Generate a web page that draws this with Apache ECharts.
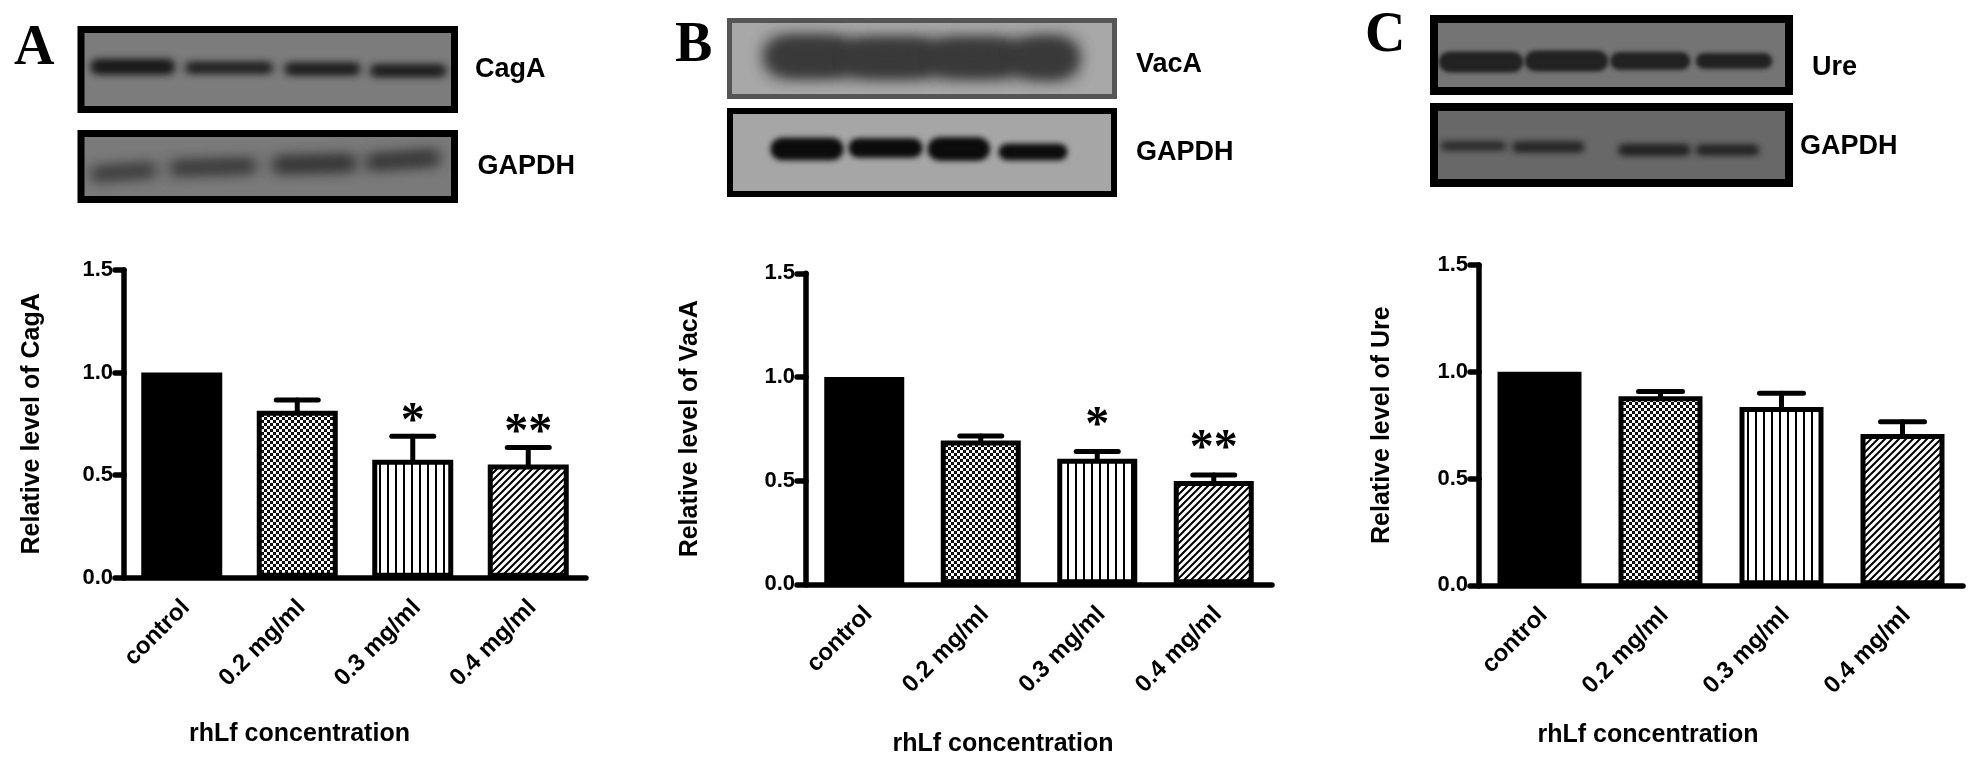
<!DOCTYPE html>
<html lang="en">
<head>
  <meta charset="UTF-8">
  <title>rhLf blots and bars</title>
  <style>html,body{margin:0;background:#fff}</style>
</head>
<body>
<div id="main" style="width: 1972px;height: 764px"></div>
<script type="text/javascript" src="https://cdn.jsdelivr.net/npm/echarts@6/dist/echarts.min.js"></script>
<script>
var categories = ['control', '0.2 mg/ml', '0.3 mg/ml', '0.4 mg/ml'];
var yTicks = [0, 0.5, 1.0, 1.5];
var stars = ['', '', '*', '**'];
var noStars = ['', '', '', ''];

var cagaMean = [1.0, 0.814, 0.575, 0.552];
var cagaTop = [null, 0.866, 0.69, 0.635];
var vacaMean = [1.0, 0.694, 0.606, 0.498];
var vacaTop = [null, 0.715, 0.64, 0.527];
var ureMean = [1.0, 0.885, 0.835, 0.709];
var ureTop = [null, 0.908, 0.899, 0.766];

var font = '"Liberation Sans", Arial, sans-serif';
var serif = '"Liberation Serif", "Times New Roman", serif';

// hatch fills for the bars
function makeTile(w, h, draw) {
  var c = document.createElement('canvas');
  c.width = w; c.height = h;
  draw(c.getContext('2d'));
  return { image: c, repeat: 'repeat' };
}
var checkFill = makeTile(6, 6, function (g) {
  g.fillStyle = '#000'; g.fillRect(0, 0, 6, 6);
  g.fillStyle = '#fff'; g.fillRect(0, 0, 3, 3); g.fillRect(3, 3, 3, 3);
  g.fillStyle = '#333'; g.fillRect(1, 4, 1, 1); g.fillRect(4, 1, 1, 1);
});
var stripeFill = makeTile(8, 8, function (g) {
  g.fillStyle = '#fff'; g.fillRect(0, 0, 8, 8);
  g.fillStyle = '#000'; g.fillRect(3, 0, 2, 8);
});
var diagFill = makeTile(7, 7, function (g) {
  g.fillStyle = '#fff'; g.fillRect(0, 0, 7, 7);
  g.strokeStyle = '#000'; g.lineWidth = 2;
  g.beginPath();
  g.moveTo(-2, 2); g.lineTo(2, -2);
  g.moveTo(-2, 9); g.lineTo(9, -2);
  g.moveTo(5, 9); g.lineTo(9, 5);
  g.stroke();
});
var barFills = ['#000', checkFill, stripeFill, diagFill];

// panels: plot area and axis title placement
var panels = [
  { left: 124, top: 270, width: 462, height: 307.7, yName: 'Relative level of CagA', yGap: 79, xShift: 111, xGap: 144, barW: 81, capW: 42, starLift: 14, mean: cagaMean, upper: cagaTop, marks: stars },
  { left: 806, top: 273.3, width: 466, height: 311, yName: 'Relative level of VacA', yGap: 103, xShift: 72, xGap: 147, barW: 80, capW: 42, starLift: 25, mean: vacaMean, upper: vacaTop, marks: stars },
  { left: 1479, top: 265, width: 484, height: 320.3, yName: 'Relative level of Ure', yGap: 84, xShift: 146, xGap: 137, barW: 84, capW: 44, starLift: 14, mean: ureMean, upper: ureTop, marks: noStars }
];

var grids = [], xAxes = [], yAxes = [], series = [];
panels.forEach(function (p, i) {
  var axisLine = { show: true, lineStyle: { color: '#000', width: 5.5, cap: 'round' } };
  var tickLine = { color: '#000', width: 5.5, cap: 'round' };
  grids.push({ left: p.left, top: p.top, width: p.width, height: p.height });
  xAxes.push({
    type: 'category', gridIndex: i, data: categories,
    axisLine: axisLine,
    axisTick: { alignWithLabel: true, length: 12, lineStyle: tickLine },
    axisLabel: { rotate: 45, margin: 22, verticalAlign: 'top', lineHeight: 12, interval: 0, color: '#000', fontFamily: font, fontWeight: 'bold', fontSize: 24 },
    name: 'rhLf concentration', nameLocation: 'middle', nameGap: p.xGap,
    nameTextStyle: { color: '#000', fontFamily: font, fontWeight: 'bold', fontSize: 25, padding: [0, p.xShift, 0, 0] }
  });
  yAxes.push({
    type: 'value', gridIndex: i, min: yTicks[0], max: yTicks[3], interval: 0.5,
    splitLine: { show: false },
    axisLine: axisLine,
    axisTick: { show: true, length: 9, lineStyle: tickLine },
    axisLabel: { margin: 11, color: '#000', fontFamily: font, fontWeight: 'bold', fontSize: 22,
      formatter: function (v) { return v.toFixed(1); } },
    name: p.yName, nameLocation: 'middle', nameGap: p.yGap,
    nameTextStyle: { color: '#000', fontFamily: font, fontWeight: 'bold', fontSize: 25 }
  });
  series.push({
    type: 'bar', xAxisIndex: i, yAxisIndex: i, barWidth: p.barW, silent: true,
    data: p.mean.map(function (v, k) {
      return { value: v, itemStyle: { color: barFills[k], borderColor: '#000', borderWidth: 5 } };
    })
  });
  // error whiskers and significance stars
  series.push({
    type: 'custom', xAxisIndex: i, yAxisIndex: i, silent: true, z: 5,
    data: p.upper.map(function (v, k) { return [k, p.mean[k], v === null ? p.mean[k] : v, k]; }),
    renderItem: function (params, api) {
      var k = api.value(3);
      var base = api.coord([k, api.value(1)]);
      var tip = api.coord([k, api.value(2)]);
      var kids = [];
      var line = { stroke: '#000', lineWidth: 5, lineCap: 'round' };
      if (api.value(2) > api.value(1)) {
        kids.push({ type: 'line', shape: { x1: base[0], y1: base[1], x2: tip[0], y2: tip[1] }, style: line });
        kids.push({ type: 'line', shape: { x1: tip[0] - p.capW / 2, y1: tip[1], x2: tip[0] + p.capW / 2, y2: tip[1] }, style: line });
      }
      if (p.marks[k]) {
        kids.push({ type: 'text', x: tip[0], y: tip[1] - p.starLift,
          style: { text: p.marks[k], fill: '#000', font: 'bold 48px ' + serif, align: 'center', verticalAlign: 'middle' } });
      }
      return { type: 'group', children: kids };
    }
  });
});

// blot pictures above the charts, not data marks
var blots = [
  { x: 77.5, y: 26, w: 380.5, h: 87, edge: 7, edgeColor: '#000', paper: '#7c7c7c', ink: '#181818', blur: 8,
    bands: [[92, 173.5, 66.7, 11], [186.5, 271.5, 67.7, 7], [286, 359, 69, 8], [371.5, 445, 70.7, 8]] },
  { x: 77.5, y: 130, w: 380.5, h: 73, edge: 7, edgeColor: '#000', paper: '#7a7a7a', ink: '#303030', blur: 14,
    bands: [[92, 155, 172, 8, 0.07], [171, 255, 167, 9, 0.03], [273.5, 355, 164, 11, 0.03], [367, 439, 160, 10, 0.07]] },
  { x: 727, y: 18, w: 390, h: 81, edge: 5, edgeColor: '#555', paper: '#a8a8a8', ink: '#3a3a3a', blur: 18,
    bands: [[775, 1070, 58, 26], [767, 848, 56, 30], [852, 931, 58, 28], [937.5, 1011, 58, 28], [1019, 1076, 58, 32]] },
  { x: 727, y: 108, w: 390, h: 89, edge: 6, edgeColor: '#000', paper: '#a6a6a6', ink: '#0c0c0c', blur: 6,
    bands: [[772, 842, 149, 19], [850, 921, 148, 16], [929, 988.5, 149, 20], [1000, 1066, 152, 13]] },
  { x: 1430, y: 15, w: 363, h: 80, edge: 8, edgeColor: '#000', paper: '#747474', ink: '#222', blur: 5,
    bands: [[1440, 1522, 62, 18], [1526, 1607, 61, 18], [1611.5, 1689, 61, 15], [1697, 1771, 61, 13]] },
  { x: 1430, y: 103, w: 363, h: 84, edge: 8, edgeColor: '#000', paper: '#686868', ink: '#222', blur: 7,
    bands: [[1442, 1505, 146, 5], [1513.5, 1583, 147, 7], [1619.6, 1689, 150, 8], [1697, 1758, 150, 7]] }
];
var notes = [
  { text: 'CagA', x: 475, y: 70 }, { text: 'GAPDH', x: 477.5, y: 167 },
  { text: 'VacA', x: 1136, y: 65 }, { text: 'GAPDH', x: 1136, y: 153 },
  { text: 'Ure', x: 1812, y: 68 }, { text: 'GAPDH', x: 1800, y: 147 }
];
var letters = [
  { text: 'A', x: 14, y: 50 }, { text: 'B', x: 675, y: 47 }, { text: 'C', x: 1365, y: 37 }
];

var drawings = [];
var farAway = 3000; // band shapes sit off the page so only their soft shadow shows
blots.forEach(function (b) {
  drawings.push({ type: 'rect', shape: { x: b.x, y: b.y, width: b.w, height: b.h },
    style: { fill: b.edgeColor }, silent: true });
  drawings.push({ type: 'rect', shape: { x: b.x + b.edge, y: b.y + b.edge, width: b.w - 2 * b.edge, height: b.h - 2 * b.edge },
    style: { fill: b.paper }, silent: true });
  b.bands.forEach(function (d) {
    var x = (d[0] + d[1]) / 2 + farAway;
    [0, 1].forEach(function () {
      drawings.push({ type: 'rect', x: x, y: d[2], rotation: d[4] || 0,
        shape: { x: -(d[1] - d[0]) / 2, y: -d[3] / 2, width: d[1] - d[0], height: d[3], r: d[3] / 2 },
        style: { fill: b.ink, shadowBlur: b.blur, shadowColor: b.ink, shadowOffsetX: -farAway }, silent: true });
    });
  });
});
notes.forEach(function (n) {
  drawings.push({ type: 'text', x: n.x, y: n.y, silent: true,
    style: { text: n.text, fill: '#000', font: 'bold 27px ' + font, verticalAlign: 'middle' } });
});
letters.forEach(function (n) {
  drawings.push({ type: 'text', x: n.x, y: n.y, silent: true,
    style: { text: n.text, fill: '#000', font: 'bold 56px ' + serif, verticalAlign: 'middle' } });
});

var myChart = echarts.init(document.getElementById('main'), null, { renderer: 'canvas' });
myChart.setOption({
  animation: false,
  backgroundColor: '#fff',
  grid: grids, xAxis: xAxes, yAxis: yAxes, series: series,
  graphic: drawings
});
</script>
</body>
</html>
